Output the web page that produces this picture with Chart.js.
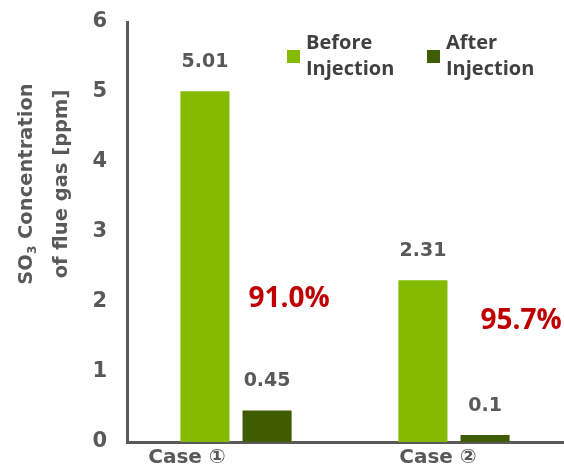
<!DOCTYPE html>
<html>
<head>
  <title>SO3 Concentration</title>
  <script src="https://cdn.jsdelivr.net/npm/chart.js"></script>
  <style>
    html, body { margin: 0; padding: 0; background: #fff; }
    #wrap { width: 564px; height: 475px; }
  </style>
</head>
<body>
  <div id="wrap"><canvas id="chart" width="564" height="475"></canvas></div>

  <script>
    const categories = ["Case \u2460", "Case \u2461"];
    const seriesNames = [["Before", "Injection"], ["After", "Injection"]];
    const beforeValues = [5.01, 2.31];
    const afterValues = [0.45, 0.1];
    const beforeLabels = ["5.01", "2.31"];
    const afterLabels = ["0.45", "0.1"];
    const reductionLabels = ["91.0%", "95.7%"];
    const reductionLevels = [2.04, 1.73];

    const GREY = "#595959";
    const BOLD = "bold 19px 'DejaVu Sans'";

    const overlay = {
      id: "overlay",
      afterDraw(chart) {
        const ctx = chart.ctx;
        const x = chart.scales.x, y = chart.scales.y;
        ctx.save();

        // value labels over the bars
        ctx.font = BOLD;
        ctx.fillStyle = GREY;
        ctx.textAlign = "center";
        ctx.textBaseline = "middle";
        const texts = [beforeLabels, afterLabels];
        chart.data.datasets.forEach((ds, d) => {
          chart.getDatasetMeta(d).data.forEach((bar, i) => {
            ctx.fillText(texts[d][i], bar.x, bar.y - 29);
          });
        });

        // reduction rates
        ctx.font = "bold 28px 'Open Sans'";
        ctx.fillStyle = "#C00000";
        const dx = [53, 67];
        reductionLabels.forEach((t, i) => {
          ctx.fillText(t, x.getPixelForValue(i) + dx[i], y.getPixelForValue(reductionLevels[i]));
        });

        // category labels
        ctx.font = "bold 20px 'DejaVu Sans'";
        ctx.fillStyle = GREY;
        const lx = [-49, -16];
        categories.forEach((c, i) => {
          ctx.fillText(c, x.getPixelForValue(i) + lx[i], 458);
        });

        // legend
        ctx.font = "bold 20px 'Open Sans'";
        ctx.textAlign = "left";
        ctx.textBaseline = "alphabetic";
        const legX = [287, 427];
        chart.data.datasets.forEach((ds, d) => {
          ctx.fillStyle = ds.backgroundColor;
          ctx.fillRect(legX[d], 50, 13, 13);
          ctx.fillStyle = "#404040";
          seriesNames[d].forEach((line, k) => {
            ctx.fillText(line, legX[d] + 19, 49 + k * 26);
          });
        });

        // y axis title, two rotated lines
        ctx.translate(0, 184);
        ctx.rotate(-Math.PI / 2);
        ctx.fillStyle = GREY;
        ctx.textBaseline = "middle";
        const big = "bold 19.5px 'DejaVu Sans'", small = "bold 12px 'DejaVu Sans'";
        const a = "SO", b = " Concentration";
        ctx.font = big;
        const wa = ctx.measureText(a).width, wb = ctx.measureText(b).width;
        ctx.font = small;
        const ws = ctx.measureText("3").width;
        const start = -(wa + ws + wb) / 2;
        ctx.font = big;
        ctx.fillText(a, start, 27);
        ctx.fillText(b, start + wa + ws, 27);
        ctx.font = small;
        ctx.fillText("3", start + wa, 33);
        ctx.font = big;
        ctx.textAlign = "center";
        ctx.fillText("of flue gas [ppm]", 0, 62);

        ctx.restore();
      }
    };

    new Chart(document.getElementById("chart"), {
      type: "bar",
      data: {
        labels: categories,
        datasets: [
          { label: seriesNames[0].join(" "), data: beforeValues, backgroundColor: "#84BB00" },
          { label: seriesNames[1].join(" "), data: afterValues, backgroundColor: "#3F5C00" }
        ]
      },
      options: {
        responsive: false,
        animation: false,
        categoryPercentage: 0.57,
        barPercentage: 0.79,
        layout: { padding: { top: 22, right: 1, left: 0, bottom: 0 } },
        plugins: { legend: { display: false }, tooltip: { enabled: false } },
        scales: {
          x: {
            grid: { display: false },
            border: { color: GREY, width: 3 },
            ticks: { display: false },
            afterFit(s) { s.height = 33; s.paddingLeft = 0; s.paddingRight = 0; }
          },
          y: {
            min: 0,
            max: 6,
            ticks: { stepSize: 1, color: GREY, font: { family: "DejaVu Sans", size: 21, weight: "bold" }, padding: 20 },
            grid: { display: false, drawTicks: false },
            border: { color: GREY, width: 3 },
            afterFit(s) { s.width = 127; s.paddingTop = 0; s.paddingBottom = 0; }
          }
        }
      },
      plugins: [overlay]
    });
  </script>
</body>
</html>
